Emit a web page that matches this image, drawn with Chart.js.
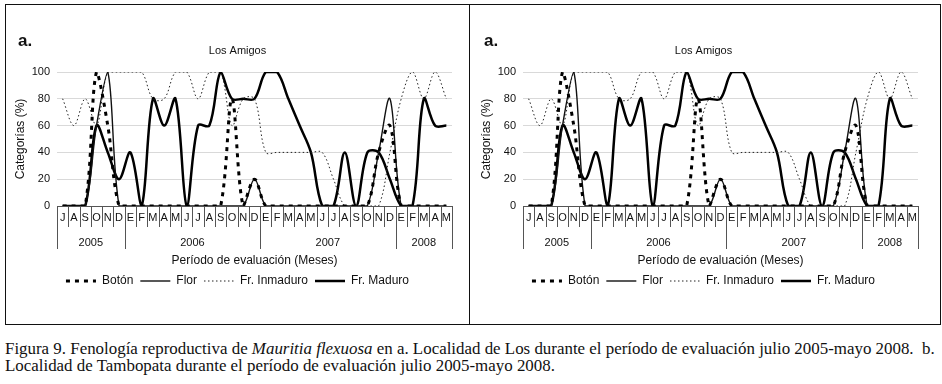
<!DOCTYPE html>
<html>
<head>
<meta charset="utf-8">
<script src="https://cdn.jsdelivr.net/npm/chart.js@4.4.1/dist/chart.umd.min.js"></script>
<style>
  body { margin: 0; background: #fff; width: 942px; height: 384px; position: relative; overflow: hidden; }
  .frame { position: absolute; left: 5px; top: 4px; width: 934px; height: 319px; border: 1px solid #111; }
  .divider { position: absolute; left: 469px; top: 4px; width: 1px; height: 320px; background: #111; }
  canvas { position: absolute; top: 6px; }
  #c1 { left: 6px; }
  #c2 { left: 472px; }
  .caption { position: absolute; left: 5px; top: 340px; font-family: "Liberation Serif", serif; font-size: 16.5px; line-height: 17px; color: #111; }
  .caption span { display: inline-block; white-space: nowrap; transform-origin: left center; }
</style>
</head>
<body>
<div class="frame"></div>
<div class="divider"></div>
<canvas id="c1" width="463" height="318"></canvas>
<canvas id="c2" width="463" height="318"></canvas>
<div class="caption">
  <span id="cap1">Figura 9. Fenología reproductiva de <i>Mauritia flexuosa</i> en a. Localidad de Los durante el período de evaluación julio 2005-mayo 2008.&nbsp; b.</span><br>
  <span id="cap2">Localidad de Tambopata durante el período de evaluación julio 2005-mayo 2008.</span>
</div>
<script>
// months jul 2005 - may 2008
const monthLabels = ['J','A','S','O','N','D',
  'E','F','M','A','M','J','J','A','S','O','N','D',
  'E','F','M','A','M','J','J','A','S','O','N','D',
  'E','F','M','A','M'];
const yearLabels = ['2005', '2006', '2007', '2008'];
const yearSpans = [6, 12, 12, 5];
const yTicks = [0, 20, 40, 60, 80, 100];

const boton      = [0,0,0,100,60,0, 0,0,0,0,0,0,0,0,0,80,0,20, 0,0,0,0,0,0,0,0,0,0,40,60, 0,0,0,0,0];
const flor       = [0,0,0,60,100,0, 0,0,0,0,0,0,0,0,0,0,0,20, 0,0,0,0,0,0,0,0,0,0,40,80, 0,0,0,0,0];
const frInmaduro = [80,60,80,60,100,100, 100,100,80,80,100,100,80,100,100,60,80,80, 40,40,40,40,40,40,20,0,0,0,0,40, 80,100,80,100,80];
const frMaduro   = [0,0,0,60,40,20, 40,0,80,60,80,0,60,60,100,80,80,80, 100,100,80,60,40,0,0,40,0,40,40,20, 0,0,80,60,60];

const FONT = "'Liberation Sans', Arial, sans-serif";
const INK = '#111';

// draws the "a." tag and the two-level month / year axis
const panelDecor = {
  id: 'panelDecor',
  afterDraw(chart) {
    const ctx = chart.ctx;
    const xs = chart.scales.x;
    const step = xs.getPixelForValue(1) - xs.getPixelForValue(0);
    const left = xs.getPixelForValue(0) - step / 2;
    const top = xs.top;
    ctx.save();
    ctx.fillStyle = INK;
    ctx.font = 'bold 17px ' + FONT;
    ctx.textAlign = 'left';
    ctx.textBaseline = 'middle';
    ctx.fillText('a.', 12, 35);

    ctx.strokeStyle = '#555';
    ctx.lineWidth = 1;
    ctx.beginPath();
    for (let i = 1; i < monthLabels.length; i++) {
      const x = Math.round(left + i * step) + 0.5;
      ctx.moveTo(x, top);
      ctx.lineTo(x, top + 21);
    }
    let idx = 0;
    const bounds = [0];
    yearSpans.forEach(n => { idx += n; bounds.push(idx); });
    bounds.forEach(b => {
      const x = Math.round(left + b * step) + 0.5;
      ctx.moveTo(x, top);
      ctx.lineTo(x, top + 43);
    });
    ctx.stroke();

    ctx.font = '11px ' + FONT;
    ctx.textAlign = 'center';
    yearLabels.forEach((lab, k) => {
      const x = left + (bounds[k] + bounds[k + 1]) / 2 * step;
      ctx.fillText(lab, x, top + 37);
    });
    ctx.restore();
  }
};

function makeConfig() {
  return {
    type: 'line',
    data: {
      labels: monthLabels,
      datasets: [
        { label: 'Botón', data: boton, borderColor: '#000', backgroundColor: '#000', borderWidth: 3, borderDash: [4, 5] },
        { label: 'Flor', data: flor, borderColor: '#111', backgroundColor: '#111', borderWidth: 1.4 },
        { label: 'Fr. Inmaduro', data: frInmaduro, borderColor: '#222', backgroundColor: '#222', borderWidth: 1, borderDash: [1.5, 2.5] },
        { label: 'Fr. Maduro', data: frMaduro, borderColor: '#000', backgroundColor: '#000', borderWidth: 2.5 }
      ]
    },
    options: {
      responsive: false,
      animation: false,
      devicePixelRatio: 1,
      layout: { padding: { left: 17, right: 17, top: 0, bottom: 27 } },
      elements: {
        point: { radius: 0 },
        line: { tension: 0.35, fill: false }
      },
      scales: {
        x: {
          offset: true,
          grid: { display: false, drawTicks: false },
          border: { display: true, color: '#555', width: 1 },
          ticks: { autoSkip: false, maxRotation: 0, padding: 5, color: INK, font: { family: FONT, size: 11 } },
          title: { display: true, text: 'Período de evaluación (Meses)', color: INK, font: { family: FONT, size: 12 }, padding: { top: 0, bottom: 0 } },
          afterFit: s => { s.height = 62; }
        },
        y: {
          min: yTicks[0],
          max: yTicks[yTicks.length - 1],
          grid: { color: '#d9d9d9', drawTicks: false },
          border: { display: false },
          ticks: { stepSize: yTicks[1] - yTicks[0], padding: 7, color: INK, font: { family: FONT, size: 11 } },
          title: { display: true, text: 'Categorías (%)', color: INK, font: { family: FONT, size: 12 }, padding: { top: -10, bottom: 0 } },
          afterFit: s => { s.width = 34; }
        }
      },
      plugins: {
        title: { display: true, text: 'Los Amigos', color: INK, font: { family: FONT, size: 11, weight: 'normal' }, padding: { top: 38, bottom: 14.8 } },
        legend: {
          position: 'bottom',
          labels: {
            usePointStyle: true, pointStyle: 'line', pointStyleWidth: 30,
            padding: 7, color: INK, font: { family: FONT, size: 12 },
            generateLabels: chart => chart.data.datasets.map((ds, i) => ({
              text: ds.label,
              datasetIndex: i,
              fillStyle: ds.borderColor,
              strokeStyle: ds.borderColor,
              lineWidth: ds.borderWidth,
              lineDash: ds.borderDash || [],
              pointStyle: 'line',
              fontColor: INK,
              hidden: false
            }))
          }
        },
        tooltip: { enabled: false }
      }
    },
    plugins: [panelDecor]
  };
}

new Chart(document.getElementById('c1'), makeConfig());
new Chart(document.getElementById('c2'), makeConfig());

// fit caption line to the frame width
const cap1 = document.getElementById('cap1');
const cap2 = document.getElementById('cap2');
const k = 930 / cap1.offsetWidth;
cap1.style.transform = 'scaleX(' + k + ')';
cap2.style.transform = 'scaleX(' + k + ')';
</script>
</body>
</html>
